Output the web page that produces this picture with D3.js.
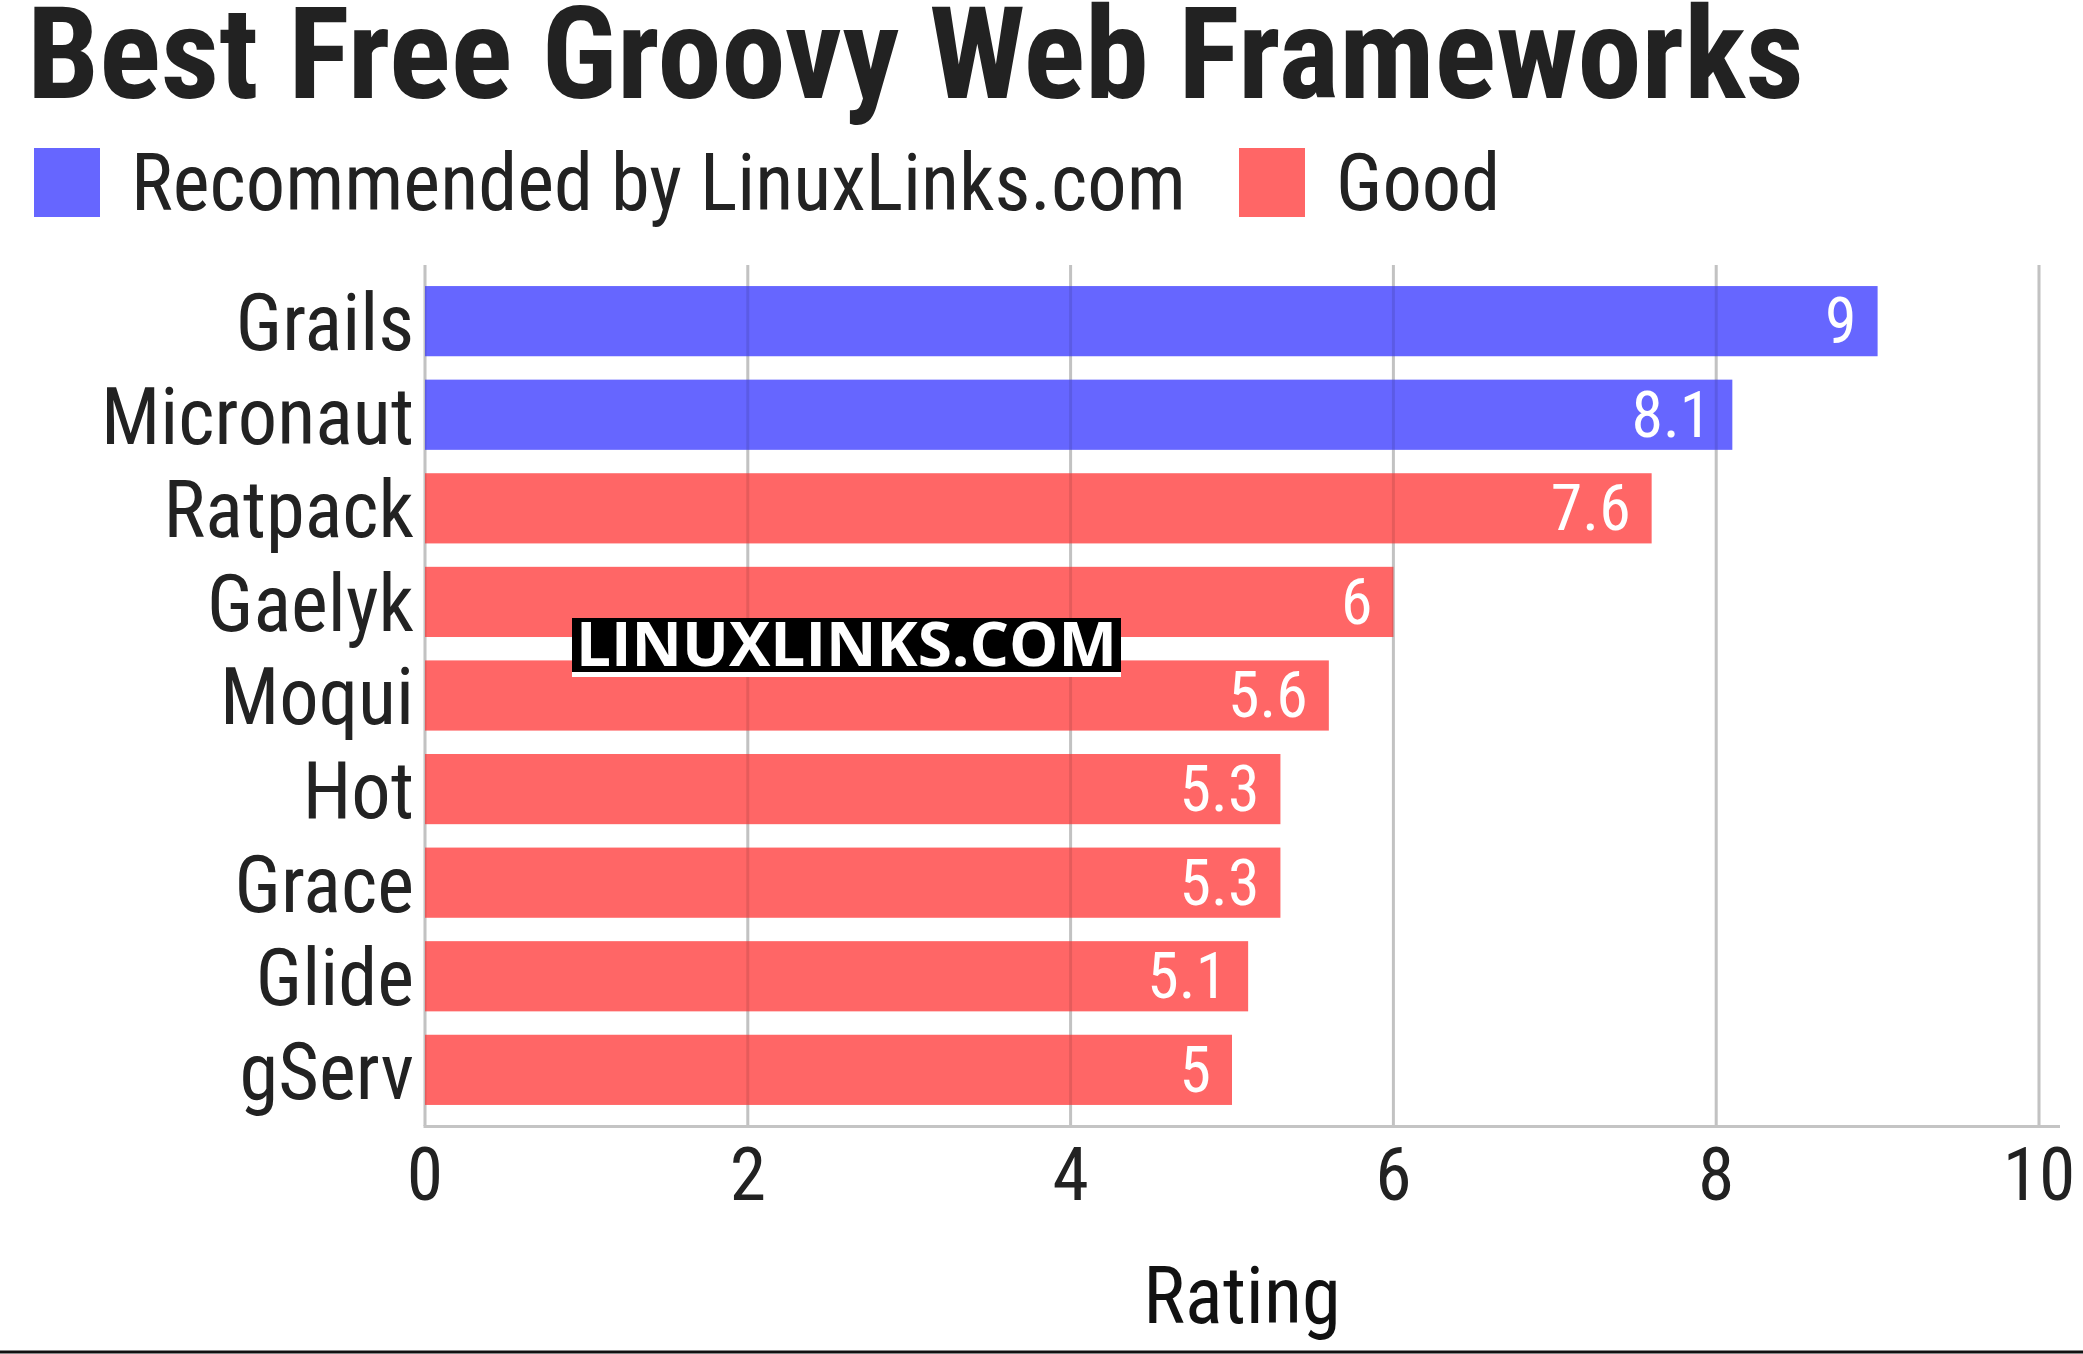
<!DOCTYPE html>
<html>
<head>
<meta charset="utf-8">
<script src="https://cdn.jsdelivr.net/npm/d3@7"></script>
<style>
	body { margin: 0; background: #fff; }
	svg { display: block; }
</style>
</head>
<body>
<div id="chart"></div>
<script>
// data
const frameworks = ["Grails", "Micronaut", "Ratpack", "Gaelyk", "Moqui", "Hot", "Grace", "Glide", "gServ"];
const ratings = [9, 8.1, 7.6, 6, 5.6, 5.3, 5.3, 5.1, 5];
const groups = ["rec", "rec", "good", "good", "good", "good", "good", "good", "good"];
const legendLabels = ["Recommended by LinuxLinks.com", "Good"];
const xTicks = [0, 2, 4, 6, 8, 10];

const width = 2083;
const height = 1354;
const font = "'Roboto Condensed', Roboto, sans-serif";
const color = d3.scaleOrdinal().domain(["rec", "good"]).range(["#6666ff", "#ff6666"]);

const svg = d3.select("#chart").append("svg")
	.attr("width", width)
	.attr("height", height)
	.style("font-family", font);

// scales
const x = d3.scaleLinear().domain([0, 10]).range([425, 2039]);
const y = d3.scaleBand()
	.domain(frameworks)
	.range([265, 1126])
	.paddingInner(0.25)
	.paddingOuter(0.225);

const data = frameworks.map((name, i) => ({name, value: ratings[i], group: groups[i]}));

// Title
svg.append("text")
	.attr("x", 27)
	.attr("y", 98)
	.attr("font-size", 128)
	.attr("font-weight", 700)
	.attr("fill", "#222")
	.attr("textLength", 1777)
	.attr("lengthAdjust", "spacingAndGlyphs")
	.text("Best Free Groovy Web Frameworks");

// Legend
const legendX = [34, 1239];
const legend = svg.append("g");
legendLabels.forEach((lab, i) => {
	legend.append("rect")
		.attr("x", legendX[i])
		.attr("y", 148)
		.attr("width", 66)
		.attr("height", 69)
		.attr("fill", color.range()[i]);
	legend.append("text")
		.attr("class", "squeeze")
		.attr("x", legendX[i] + 97)
		.attr("y", 210)
		.attr("font-size", 80)
		.attr("fill", "#222")
		.text(lab);
});

// Grid under bars
const grid = (g, stroke) => g.selectAll("line")
	.data(xTicks)
	.join("line")
	.attr("x1", d => x(d))
	.attr("x2", d => x(d))
	.attr("y1", 265)
	.attr("y2", 1126)
	.attr("stroke", stroke)
	.attr("stroke-width", 3);

svg.append("g").call(grid, "#d8d8d8");

// Bars
svg.append("g")
	.selectAll("rect")
	.data(data)
	.join("rect")
	.attr("x", x(0))
	.attr("y", d => y(d.name))
	.attr("width", d => x(d.value) - x(0))
	.attr("height", y.bandwidth())
	.attr("fill", d => color(d.group));

// Grid shade over bars
svg.append("g").call(grid, "rgba(0,0,0,0.1)");

// X axis line
svg.append("line")
	.attr("x1", x(0) - 1.5)
	.attr("x2", 2060)
	.attr("y1", 1126.5)
	.attr("y2", 1126.5)
	.attr("stroke", "#c4c4c4")
	.attr("stroke-width", 3);

// Tick labels
svg.append("g")
	.selectAll("text")
	.data(xTicks)
	.join("text")
	.attr("class", "squeeze")
	.attr("x", d => x(d))
	.attr("y", 1200)
	.attr("text-anchor", "middle")
	.attr("font-size", 75)
	.attr("fill", "#222")
	.text(d => d);

// Category labels
svg.append("g")
	.selectAll("text")
	.data(data)
	.join("text")
	.attr("class", "squeeze")
	.attr("x", 414)
	.attr("y", d => y(d.name) + y.bandwidth() / 2 + 29)
	.attr("text-anchor", "end")
	.attr("font-size", 80)
	.attr("fill", "#222")
	.text(d => d.name);

// Value labels
svg.append("g")
	.selectAll("text")
	.data(data)
	.join("text")
	.attr("class", "squeeze")
	.attr("x", d => x(d.value) - 21)
	.attr("y", d => y(d.name) + y.bandwidth() / 2 + 22)
	.attr("text-anchor", "end")
	.attr("font-size", 65)
	.attr("fill", "#fff")
	.text(d => d.value);

// Axis title
svg.append("text")
	.attr("class", "squeeze")
	.attr("x", 1242)
	.attr("y", 1323)
	.attr("text-anchor", "middle")
	.attr("font-size", 80)
	.attr("fill", "#111")
	.text("Rating");

// Watermark
const wm = svg.append("g");
wm.append("rect")
	.attr("x", 572).attr("y", 618)
	.attr("width", 549).attr("height", 54)
	.attr("fill", "#000");
wm.append("rect")
	.attr("x", 572).attr("y", 672)
	.attr("width", 549).attr("height", 5)
	.attr("fill", "#fff");
wm.append("text")
	.attr("x", 576)
	.attr("y", 666)
	.attr("font-family", "'Open Sans', 'Noto Sans', sans-serif")
	.attr("font-weight", 700)
	.attr("font-size", 60)
	.attr("fill", "#fff")
	.attr("textLength", 541)
	.attr("lengthAdjust", "spacingAndGlyphs")
	.text("LINUXLINKS.COM");

// Bottom rule
svg.append("line")
	.attr("x1", 0).attr("x2", width)
	.attr("y1", 1352).attr("y2", 1352)
	.attr("stroke", "#111")
	.attr("stroke-width", 3);

// Condense text if the narrow face is missing: match legend width
const ref = legend.select("text").node().getComputedTextLength();
const k = Math.min(1, 1055 / ref);
svg.selectAll(".squeeze").each(function() {
	const t = d3.select(this);
	const ax = +t.attr("x");
	t.attr("transform", `translate(${ax},0) scale(${k},1) translate(${-ax},0)`);
});
</script>
</body>
</html>
